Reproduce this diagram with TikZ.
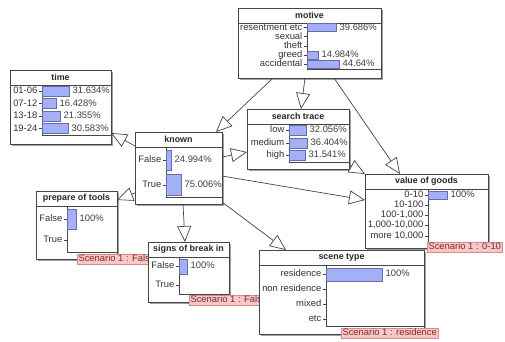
\documentclass[tikz,border=0pt]{standalone}
\usepackage{fontspec}
\setmainfont{Liberation Sans}
\usetikzlibrary{arrows.meta,shadows}

\definecolor{bnedge}{RGB}{70,70,70}
\definecolor{bnbar}{RGB}{165,175,245}
\definecolor{bnbarline}{RGB}{100,110,170}
\definecolor{scfill}{RGB}{248,200,200}
\definecolor{scline}{RGB}{215,140,140}
\definecolor{sctext}{RGB}{130,40,40}
\definecolor{bnshadow}{RGB}{160,160,160}

\tikzset{
  bnbox/.style={draw=bnedge, fill=white, line width=0.9pt, inner sep=0pt, outer sep=0pt,
    drop shadow={shadow xshift=1.5pt, shadow yshift=-1.5pt, fill=bnshadow, opacity=1}},
  bntitle/.style={font=\fontsize{8.9}{9}\selectfont\bfseries, inner sep=0pt, text=black!85},
  bnlabel/.style={font=\fontsize{9.4}{10}\selectfont, inner sep=0pt, anchor=east, text=black!80,
    text height=6.7pt, text depth=1.9pt},
  bnpct/.style={font=\fontsize{9.4}{10}\selectfont, inner sep=0pt, anchor=west, text=black!75,
    text height=6.7pt, text depth=1.9pt},
  bnrule/.style={draw=bnedge, line width=0.7pt},
  bnbarstyle/.style={fill=bnbar, draw=bnbarline, line width=0.5pt},
  scen/.style={fill=scfill, draw=scline, line width=0.5pt, text=sctext,
    font=\fontsize{9.4}{10}\selectfont, inner xsep=1.5pt, inner ysep=1pt,
    text height=6.8pt, text depth=1.8pt, anchor=north west, outer sep=0pt},
  link/.style={draw=bnedge, line width=0.7pt,
    -{Triangle[length=16pt,width=14pt,fill=white,line width=0.7pt]}},
}

% #1 name, #2 left, #3 top, #4 width, #5 height, #6 title,
% #7 axis x, #8 chart bottom, #9 rows: label/centre y/half height/bar length/percent
\newcommand{\bnnode}[9]{%
  \node[bnbox, minimum width=#4pt, minimum height=#5pt, anchor=north west] (#1) at (#2,#3) {};
  \node[bntitle] (#1-title) at ({#2+#4/2},{#3+7.5}) {#6};
  \draw[bnrule] (#2,#3+15) -- ++(#4,0);
  \draw[bnrule] (#7,#3+15) |- ({#2+#4},#8);
  \foreach \lab/\cy/\hh/\len/\pct [count=\i] in {#9}{%
    \draw[bnrule] (#7-3,\cy) -- (#7,\cy);
    \node[bnlabel] (#1-s\i) at (#7-4.5,\cy) {\lab};
    \ifdim\len pt>0pt
      \draw[bnbarstyle] (#7,\cy-\hh) rectangle ++(\len,2*\hh);
      \node[bnpct] (#1-p\i) at (#7+\len+3.5,\cy) {\pct};
    \fi
  }%
}

\begin{document}
\begin{tikzpicture}[x=1pt,y=-1pt]
  \useasboundingbox (0,0) rectangle (505,341);
  \fill[white] (0,0) rectangle (505,341);

  \bnnode{motive}{238}{8}{143}{70}{motive}{307}{69}%
    {resentment etc/27.6/4/29/39.686\%, sexual/36.8/4/0/x, theft/46/4/0/x,
     greed/55.2/4/11/14.984\%, accidental/64.4/4/32/44.64\%}

  \bnnode{time}{10}{70}{101}{74}{time}{42}{135}%
    {01-06/91.2/5/27/31.634\%, 07-12/103.7/5/14/16.428\%,
     13-18/116.2/5/18/21.355\%, 19-24/128.7/5/26/30.583\%}

  \bnnode{known}{135}{132}{87}{72}{known}{166}{197}%
    {False/160.5/9.8/5/24.994\%, True/185/10.3/15/75.006\%}

  \bnnode{search}{247}{109}{102}{60}{search trace}{289}{162}%
    {low/130.5/5/17/32.056\%, medium/143/5/18/36.404\%, high/155.5/5/16/31.541\%}

  \bnnode{value}{365}{174}{123}{74}{value of goods}{428}{242}%
    {0-10/195/4/19/100\%, 10-100/205/4/0/x, {100-1,000}/215.3/4/0/x,
     {1,000-10,000}/225.5/4/0/x, {more 10,000}/236/4/0/x}

  \bnnode{prepare}{36}{191}{81}{68}{prepare of tools}{67}{252}%
    {False/219/10/9/100\%, True/240.5/10/0/x}
  \node[scen] (prepare-scen) at (77,254) {Scenario 1 : False};

  \bnnode{signs}{148}{242}{81}{60}{signs of break in}{179}{294.5}%
    {False/266.5/7.5/8/100\%, True/285/7.5/0/x}
  \node[scen] (signs-scen) at (189,295) {Scenario 1 : False};

  \bnnode{scene}{259}{250}{165}{84}{scene type}{326}{326.5}%
    {residence/274.5/6.5/56/100\%, non residence/289.5/6.5/0/x,
     mixed/304.5/6.5/0/x, etc/319.5/6.5/0/x}
  \node[scen] (scene-scen) at (341,328) {Scenario 1 : residence};

  \node[scen] (value-scen) at (427,242) {Scenario 1 : 0-10};

  % dependencies
  \draw[link] ([xshift=35pt]motive.south west) -- ([xshift=81pt]known.north west);
  \draw[link] ([xshift=67pt]motive.south west) -- ([xshift=54pt]search.north west);
  \draw[link] ([xshift=96pt]motive.south west) -- ([xshift=35pt]value.north west);
  \draw[link] ([yshift=-14pt]known.north west) -- ([yshift=-63pt]time.north east);
  \draw[link] ([yshift=-25pt]known.north east) -- ([yshift=-43pt]search.north west);
  \draw[link] ([yshift=-61pt]known.north west) -- ([yshift=-9pt]prepare.north east);
  \draw[link] ([xshift=48pt]known.south west) -- ([xshift=37pt]signs.north west);
  \draw[link] ([yshift=-44pt]known.north east) -- ([yshift=-26pt]value.north west);
  \draw[link] ([yshift=2pt]known.south east) -- ([xshift=27pt]scene.north west);
  \draw[link] ([yshift=4pt]search.south east) -- (value.north west);
\end{tikzpicture}
\end{document}
